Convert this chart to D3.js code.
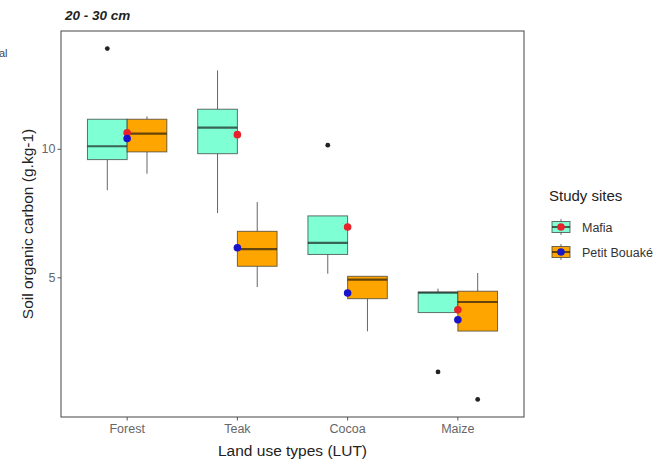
<!DOCTYPE html>
<html>
<head>
<meta charset="utf-8">
<script src="https://cdn.jsdelivr.net/npm/d3@7"></script>
<style>
  html, body { margin: 0; padding: 0; background: #fff; }
  svg { display: block; font-family: "Liberation Sans", Arial, sans-serif; }
</style>
</head>
<body>
<svg id="chart" width="663" height="461"></svg>
<script>
// ---- data ----
const categories = ["Forest", "Teak", "Cocoa", "Maize"];
const sites = ["Mafia", "Petit Bouaké"];
const yTicks = [5, 10];

const mafiaLow     = [8.39, 7.50, 5.14, 3.63];
const mafiaQ1      = [9.58, 9.81, 5.89, 3.63];
const mafiaMedian  = [10.10, 10.82, 6.34, 4.40];
const mafiaQ3      = [11.15, 11.54, 7.39, 4.43];
const mafiaHigh    = [11.15, 13.05, 7.39, 4.56];
const mafiaMean    = [10.62, 10.55, 6.96, 3.74];
const mafiaOutliers = [[13.9], [], [10.14], [1.32]];

const pbLow     = [9.03, 4.62, 2.90, 2.91];
const pbQ1      = [9.88, 5.43, 4.17, 2.91];
const pbMedian  = [10.59, 6.10, 4.91, 4.04];
const pbQ3      = [11.15, 6.79, 5.04, 4.46];
const pbHigh    = [11.26, 7.93, 5.04, 5.17];
const pbMean    = [10.40, 6.15, 4.39, 3.35];
const pbOutliers = [[], [], [], [0.25]];

// ---- layout ----
const svg = d3.select("#chart");
const panel = { left: 61, top: 31, right: 524, bottom: 417 };
const fills = { "Mafia": "#7fffd4", "Petit Bouaké": "#ffa500" };
const meanColors = { "Mafia": "#e8212b", "Petit Bouaké": "#1a14c8" };
const lineCol = "#333";

const seriesData = [
  { site: "Mafia", low: mafiaLow, q1: mafiaQ1, med: mafiaMedian, q3: mafiaQ3, high: mafiaHigh, mean: mafiaMean, out: mafiaOutliers, dodge: -1 },
  { site: "Petit Bouaké", low: pbLow, q1: pbQ1, med: pbMedian, q3: pbQ3, high: pbHigh, mean: pbMean, out: pbOutliers, dodge: 1 }
];

const allVals = [];
seriesData.forEach(s => {
  allVals.push(...s.low, ...s.high, ...s.mean);
  s.out.forEach(o => allVals.push(...o));
});
const ext = d3.extent(allVals);
const pad = (ext[1] - ext[0]) * 0.05;

const x = d3.scaleBand().domain(categories).range([panel.left, panel.right]).paddingInner(0).paddingOuter(0.1);
const y = d3.scaleLinear().domain([ext[0] - pad, ext[1] + pad]).range([panel.bottom, panel.top]);

const step = x.step();
const boxW = step * 0.36;
const off = step * 0.18;
const cx = c => x(c) + x.bandwidth() / 2;

// panel background & border
svg.append("rect")
  .attr("x", panel.left).attr("y", panel.top)
  .attr("width", panel.right - panel.left).attr("height", panel.bottom - panel.top)
  .attr("fill", "#fff").attr("stroke", "#555").attr("stroke-width", 1.1);

// boxes
const g = svg.append("g");
seriesData.forEach(s => {
  categories.forEach((c, i) => {
    const xc = cx(c) + s.dodge * off;
    // whiskers
    g.append("line").attr("x1", xc).attr("x2", xc)
      .attr("y1", y(s.q3[i])).attr("y2", y(s.high[i]))
      .attr("stroke", lineCol).attr("stroke-opacity", 0.75).attr("stroke-width", 1);
    g.append("line").attr("x1", xc).attr("x2", xc)
      .attr("y1", y(s.q1[i])).attr("y2", y(s.low[i]))
      .attr("stroke", lineCol).attr("stroke-opacity", 0.75).attr("stroke-width", 1);
    // box
    g.append("rect")
      .attr("x", xc - boxW / 2).attr("width", boxW)
      .attr("y", y(s.q3[i])).attr("height", y(s.q1[i]) - y(s.q3[i]))
      .attr("fill", fills[s.site])
      .attr("stroke", lineCol).attr("stroke-opacity", 0.7).attr("stroke-width", 1);
    // median
    g.append("line")
      .attr("x1", xc - boxW / 2).attr("x2", xc + boxW / 2)
      .attr("y1", y(s.med[i])).attr("y2", y(s.med[i]))
      .attr("stroke", "#111").attr("stroke-opacity", 0.65).attr("stroke-width", 2.2);
    // outliers
    s.out[i].forEach(v => {
      g.append("circle").attr("cx", xc).attr("cy", y(v)).attr("r", 2.4).attr("fill", "#222");
    });
  });
});
// means (drawn at category centre)
seriesData.forEach(s => {
  categories.forEach((c, i) => {
    g.append("circle").attr("cx", cx(c)).attr("cy", y(s.mean[i])).attr("r", 3.8)
      .attr("fill", meanColors[s.site]);
  });
});

// y axis
const yAxis = svg.append("g").attr("transform", `translate(${panel.left},0)`)
  .call(d3.axisLeft(y).tickValues(yTicks).tickSize(3.5).tickPadding(2));
yAxis.select(".domain").remove();
yAxis.selectAll("line").attr("stroke", "#555");
yAxis.selectAll("text").attr("fill", "#666").style("font-size", "12.5px");

// x axis
const xAxis = svg.append("g").attr("transform", `translate(0,${panel.bottom})`)
  .call(d3.axisBottom(x).tickSize(3.5).tickPadding(4));
xAxis.select(".domain").remove();
xAxis.selectAll("line").attr("stroke", "#555");
xAxis.selectAll("text").attr("fill", "#666").style("font-size", "12.5px");

// axis titles
svg.append("text").attr("x", (panel.left + panel.right) / 2).attr("y", 456)
  .attr("text-anchor", "middle").attr("fill", "#222").style("font-size", "15.5px")
  .text("Land use types (LUT)");
svg.append("text")
  .attr("transform", `translate(33,${(panel.top + panel.bottom) / 2}) rotate(-90)`)
  .attr("text-anchor", "middle").attr("fill", "#222").style("font-size", "15.5px")
  .text("Soil organic carbon (g.kg-1)");

// plot title
svg.append("text").attr("x", 65).attr("y", 20)
  .attr("fill", "#222").style("font-size", "13.5px").style("font-weight", "bold").style("font-style", "italic")
  .text("20 - 30 cm");

// stray fragment at top left
svg.append("text").attr("x", -1).attr("y", 57)
  .attr("fill", "#444").style("font-size", "11px").text("al");

// legend
const leg = svg.append("g");
leg.append("text").attr("x", 549).attr("y", 201).attr("fill", "#222")
  .style("font-size", "15px").text("Study sites");
sites.forEach((s, i) => {
  const ky = 227 + i * 25;
  const kx = 561;
  leg.append("line").attr("x1", kx).attr("x2", kx).attr("y1", ky - 8).attr("y2", ky + 8)
    .attr("stroke", lineCol).attr("stroke-opacity", 0.7);
  leg.append("rect").attr("x", kx - 9).attr("y", ky - 5.5).attr("width", 18).attr("height", 11)
    .attr("fill", fills[s]).attr("stroke", lineCol).attr("stroke-opacity", 0.7);
  leg.append("line").attr("x1", kx - 9).attr("x2", kx + 9).attr("y1", ky).attr("y2", ky)
    .attr("stroke", "#111").attr("stroke-opacity", 0.65).attr("stroke-width", 2);
  leg.append("circle").attr("cx", kx).attr("cy", ky).attr("r", 3.8).attr("fill", meanColors[s]);
  leg.append("text").attr("x", 582).attr("y", ky + 4.5).attr("fill", "#333")
    .style("font-size", "12.5px").text(s);
});
</script>
</body>
</html>
